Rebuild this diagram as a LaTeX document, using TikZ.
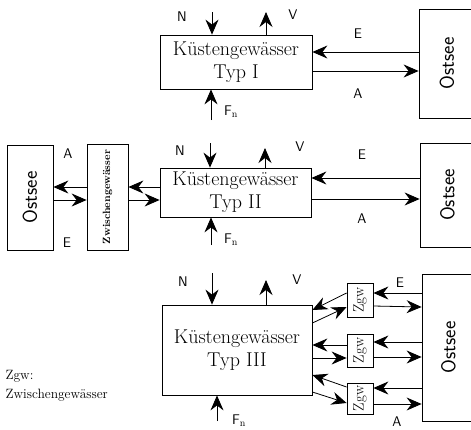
\documentclass[tikz,border=0pt]{standalone}
\usepackage{graphicx}
\usetikzlibrary{arrows.meta,positioning}

\tikzset{
  box/.style={draw, thick, inner sep=0pt},
  kg/.style={box, align=center, font=\fontsize{20}{23}\selectfont},
  flow/.style={-{Stealth[length=15pt,width=13pt,inset=5pt]}, thick},
  lbl/.style={font=\sffamily\fontsize{14}{16}\selectfont},
  sea/.style={font=\sffamily\fontsize{20}{22}\selectfont},
  zgw/.style={box, minimum width=26pt, font=\fontsize{15}{17}\selectfont}
}

\begin{document}
\begin{tikzpicture}[x=1pt,y=-1pt]
\useasboundingbox (0,0) rectangle (471,429);

% Typ I
\node (k1) [kg, minimum width=152pt, minimum height=54pt] at (236,62) {K\"ustengew\"asser\\Typ I};
\node (o1) [box, sea, minimum width=56pt, minimum height=109pt] at (447,63.5) {\rotatebox{90}{Ostsee}};
\coordinate (n1) at (212,12);
\coordinate (v1) at (266,12);
\coordinate (f1) at (211,120);
\draw [flow] (n1) -- (n1 |- k1.north);
\draw [flow] (v1 |- k1.north) -- (v1);
\draw [flow] (f1) -- (f1 |- k1.south);
\draw [flow] (o1.west |- 0,52) -- (k1.east |- 0,52);
\draw [flow] (k1.east |- 0,71) -- (o1.west |- 0,71);
\node [lbl] at (182,17) {N};
\node [lbl] at (293,15) {V};
\node [lbl] at (231,112) {F$_\mathrm{n}$};
\node [lbl] at (358,34) {E};
\node [lbl] at (358,94) {A};

% Typ II
\node (k2) [kg, minimum width=151pt, minimum height=49pt] at (235.5,192.5) {K\"ustengew\"asser\\Typ II};
\node (o2) [box, sea, minimum width=55pt, minimum height=104pt] at (447.5,195) {\rotatebox{90}{Ostsee}};
\node (o0) [box, sea, minimum width=46pt, minimum height=105pt] at (30,197.5) {\rotatebox{90}{Ostsee}};
\node (zw) [box, font=\bfseries\fontsize{10.5}{12}\selectfont, minimum width=41pt, minimum height=106pt] at (107.5,197) {\rotatebox{90}{Zwischengew\"asser}};
\coordinate (n2) at (210,143);
\coordinate (v2) at (265,148);
\coordinate (f2) at (211,245);
\draw [flow] (n2) -- (n2 |- k2.north);
\draw [flow] (v2 |- k2.north) -- (v2);
\draw [flow] (f2) -- (f2 |- k2.south);
\draw [flow] (o2.west |- 0,178) -- (k2.east |- 0,178);
\draw [flow] (k2.east |- 0,199) -- (o2.west |- 0,199);
\draw [flow] (k2.west |- 0,187) -- (zw.east |- 0,187);
\draw [flow] (zw.east |- 0,200) -- (k2.west |- 0,200);
\draw [flow] (zw.west |- 0,187) -- (o0.east |- 0,187);
\draw [flow] (o0.east |- 0,200) -- (zw.west |- 0,200);
\node [lbl] at (180,151) {N};
\node [lbl] at (300,147) {V};
\node [lbl] at (231,240) {F$_\mathrm{n}$};
\node [lbl] at (362,155) {E};
\node [lbl] at (362,219) {A};
\node [lbl] at (68,154) {A};
\node [lbl] at (67,243) {E};

% Typ III
\node (k3) [kg, minimum width=150pt, minimum height=90pt] at (237,350) {K\"ustengew\"asser\\Typ III};
\node (o3) [box, sea, minimum width=53pt, minimum height=147pt] at (448.5,347.5) {\rotatebox{90}{Ostsee}};
\node (z1) [zgw, minimum height=34pt] at (360,300) {\rotatebox{90}{Zgw}};
\node (z2) [zgw, minimum height=33pt] at (360,350.5) {\rotatebox{90}{Zgw}};
\node (z3) [zgw, minimum height=31pt] at (360,398.5) {\rotatebox{90}{Zgw}};
\coordinate (n3) at (212,273);
\coordinate (v3) at (266,280);
\coordinate (f3) at (217,421);
\draw [flow] (n3) -- (n3 |- k3.north);
\draw [flow] (v3 |- k3.north) -- (v3);
\draw [flow] (f3) -- (f3 |- k3.south);
\draw [flow] (o3.west |- 0,293) -- (z1.east |- 0,293);
\draw [flow] (z1.east |- 0,306) -- (o3.west |- 0,307);
\draw [flow] (o3.west |- 0,342) -- (z2.east |- 0,342);
\draw [flow] (z2.east |- 0,357) -- (o3.west |- 0,357);
\draw [flow] (o3.west |- 0,388) -- (z3.east |- 0,388);
\draw [flow] (z3.east |- 0,404) -- (o3.west |- 0,404);
\draw [flow] (z1.west |- 0,293) -- (k3.east |- 0,310);
\draw [flow] (k3.east |- 0,323) -- (z1.west |- 0,307);
\draw [flow] (z2.west |- 0,345) -- (k3.east |- 0,345);
\draw [flow] (k3.east |- 0,358) -- (z2.west |- 0,358);
\draw [flow] (z3.west |- 0,387) -- (k3.east |- 0,375);
\draw [flow] (k3.east |- 0,392) -- (z3.west |- 0,403);
\node [lbl] at (183,282) {N};
\node [lbl] at (297,280) {V};
\node [lbl] at (239,421) {F$_\mathrm{n}$};
\node [lbl] at (400,283) {E};
\node [lbl] at (397,422) {A};

% Legende
\node (zg) [anchor=west, font=\fontsize{13.5}{15}\selectfont] at (2,376) {Zgw:};
\node [font=\fontsize{13.5}{15}\selectfont, below=0pt of zg.south west, anchor=north west] {Zwischengew\"asser};
\end{tikzpicture}
\end{document}
